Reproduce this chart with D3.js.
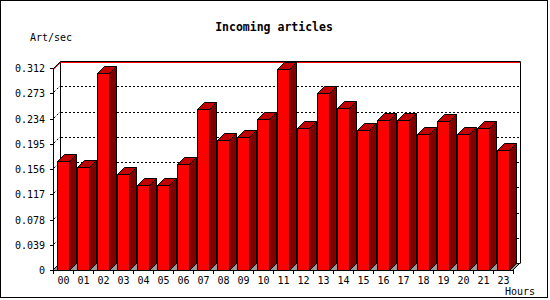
<!DOCTYPE html>
<html>
<head>
<meta charset="utf-8">
<script src="https://cdn.jsdelivr.net/npm/d3@7/dist/d3.min.js"></script>
<style>
body { margin: 0; background: #fff; }
text { font-family: "DejaVu Sans Mono", monospace; font-size: 10px; fill: #000; }
</style>
</head>
<body>
<script>
// data
var hours = ["00","01","02","03","04","05","06","07","08","09","10","11","12","13","14","15","16","17","18","19","20","21","23"];
var artPerSec = [0.168,0.159,0.304,0.148,0.132,0.131,0.163,0.248,0.201,0.206,0.234,0.310,0.220,0.273,0.250,0.216,0.231,0.231,0.210,0.230,0.210,0.220,0.185];
var yTicks = [0,0.039,0.078,0.117,0.156,0.195,0.234,0.273,0.312];
var yMax = 0.312;

var width = 550, height = 300;
var depth = 7; // 3d offset

var svg = d3.select('body').append('svg').attr('width', width).attr('height', height);

// outer frame
svg.append('rect').attr('x', 0.5).attr('y', 0.5).attr('width', 547).attr('height', 297)
  .attr('fill', 'none').attr('stroke', '#000');

var x = d3.scaleBand().domain(hours).range([53, 513]).padding(0);
var y = d3.scaleLinear().domain([0, yMax]).range([270, 68]);

var x0 = 53, x1 = 513, yb = y(0), yt = y(yMax);

// floor (grey)
svg.append('path')
  .attr('d', 'M' + x0 + ',' + yb + 'L' + (x0 + depth) + ',' + (yb - depth) + 'L' + (x1 + depth) + ',' + (yb - depth) + 'L' + x1 + ',' + yb + 'Z')
  .attr('fill', '#999').attr('stroke', '#000').attr('shape-rendering', 'crispEdges');

// dotted grid lines on back wall
var gridVals = yTicks.filter(function(d) { return d > 0 && d < yMax; });
svg.selectAll('.gridd').data(gridVals)
  .join('line').attr('class', 'gridd')
  .attr('x1', x0 + 1).attr('x2', x0 + depth)
  .attr('y1', function(d) { return Math.round(y(d)) - 1; })
  .attr('y2', function(d) { return Math.round(y(d)) - depth; })
  .attr('stroke', '#000').attr('stroke-dasharray', '2,2');
svg.selectAll('.grid').data(gridVals)
  .join('line').attr('class', 'grid')
  .attr('x1', x0 + depth + 1).attr('x2', x1 + depth)
  .attr('y1', function(d) { return Math.round(y(d)) - depth + 0.5; })
  .attr('y2', function(d) { return Math.round(y(d)) - depth + 0.5; })
  .attr('stroke', '#000').attr('stroke-dasharray', '2,2').attr('shape-rendering', 'crispEdges');

// back wall edges
var bt = Math.round(yt - depth) + 0.5;
svg.append('path')
  .attr('d', 'M' + (x0 + 0.5) + ',' + (Math.round(yt) + 0.5) + 'L' + (x0 + depth + 0.5) + ',' + bt + 'L' + (x1 + depth + 0.5) + ',' + bt + 'L' + (x1 + depth + 0.5) + ',' + (yb - depth + 0.5))
  .attr('fill', 'none').attr('stroke', '#000');
svg.append('line').attr('x1', x0 + depth + 0.5).attr('x2', x0 + depth + 0.5).attr('y1', bt).attr('y2', yb - depth)
  .attr('stroke', '#000');
// max line in red
svg.append('path')
  .attr('d', 'M' + (x0 + 0.5) + ',' + (Math.round(yt) + 1.5) + 'L' + (x0 + depth + 0.5) + ',' + (bt + 1) + 'L' + (x1 + depth) + ',' + (bt + 1))
  .attr('fill', 'none').attr('stroke', '#f00');

// bars
var bw = 12, off = 4;
var bars = svg.selectAll('.bar').data(artPerSec).join('g').attr('class', 'bar');
bars.each(function(v, i) {
  var g = d3.select(this);
  var bx = x(hours[i]) + off + 0.5;
  var by = Math.round(y(v)) + 0.5;
  var bb = yb + 0.5;
  // side
  g.append('path')
    .attr('d', 'M' + (bx + bw) + ',' + by + 'L' + (bx + bw + depth) + ',' + (by - depth) + 'L' + (bx + bw + depth) + ',' + (bb - depth) + 'L' + (bx + bw) + ',' + bb + 'Z')
    .attr('fill', '#800000').attr('stroke', '#000');
  // top
  g.append('path')
    .attr('d', 'M' + bx + ',' + by + 'L' + (bx + depth) + ',' + (by - depth) + 'L' + (bx + bw + depth) + ',' + (by - depth) + 'L' + (bx + bw) + ',' + by + 'Z')
    .attr('fill', '#c00000').attr('stroke', '#000');
  // front
  g.append('rect').attr('x', bx).attr('y', by).attr('width', bw).attr('height', bb - by)
    .attr('fill', '#f00').attr('stroke', '#000');
});

// front axes
svg.append('line').attr('x1', x0 + 0.5).attr('x2', x0 + 0.5).attr('y1', Math.round(yt)).attr('y2', yb + 0.5).attr('stroke', '#000');
svg.append('line').attr('x1', x0).attr('x2', x1 + 0.5).attr('y1', yb + 0.5).attr('y2', yb + 0.5).attr('stroke', '#000');

// y ticks and labels
svg.selectAll('.yt').data(yTicks).join('line').attr('class', 'yt')
  .attr('x1', x0 - 3).attr('x2', x0)
  .attr('y1', function(d) { return Math.round(y(d)) + 0.5; })
  .attr('y2', function(d) { return Math.round(y(d)) + 0.5; })
  .attr('stroke', '#000');
svg.selectAll('.yl').data(yTicks).join('text').attr('class', 'yl')
  .attr('x', 45).attr('y', function(d) { return y(d) + 4; })
  .attr('text-anchor', 'end')
  .text(function(d) { return d === 0 ? '0' : d3.format('.3f')(d); });

// x ticks and labels
svg.selectAll('.xt').data(hours.concat(['end'])).join('line').attr('class', 'xt')
  .attr('x1', function(d, i) { return x0 + i * x.bandwidth() + 0.5; })
  .attr('x2', function(d, i) { return x0 + i * x.bandwidth() + 0.5; })
  .attr('y1', yb).attr('y2', yb + 4)
  .attr('stroke', '#000');
svg.selectAll('.xl').data(hours).join('text').attr('class', 'xl')
  .attr('x', function(d) { return x(d) + x.bandwidth() / 2 + 0.5; })
  .attr('y', 284)
  .attr('text-anchor', 'middle')
  .text(function(d) { return d; });

// titles
svg.append('text').attr('x', 274).attr('y', 31).attr('text-anchor', 'middle')
  .style('font-weight', 'bold').style('font-size', '11.5px').text('Incoming articles');
svg.append('text').attr('x', 30).attr('y', 41).text('Art/sec');
svg.append('text').attr('x', 505).attr('y', 295).text('Hours');
</script>
</body>
</html>
